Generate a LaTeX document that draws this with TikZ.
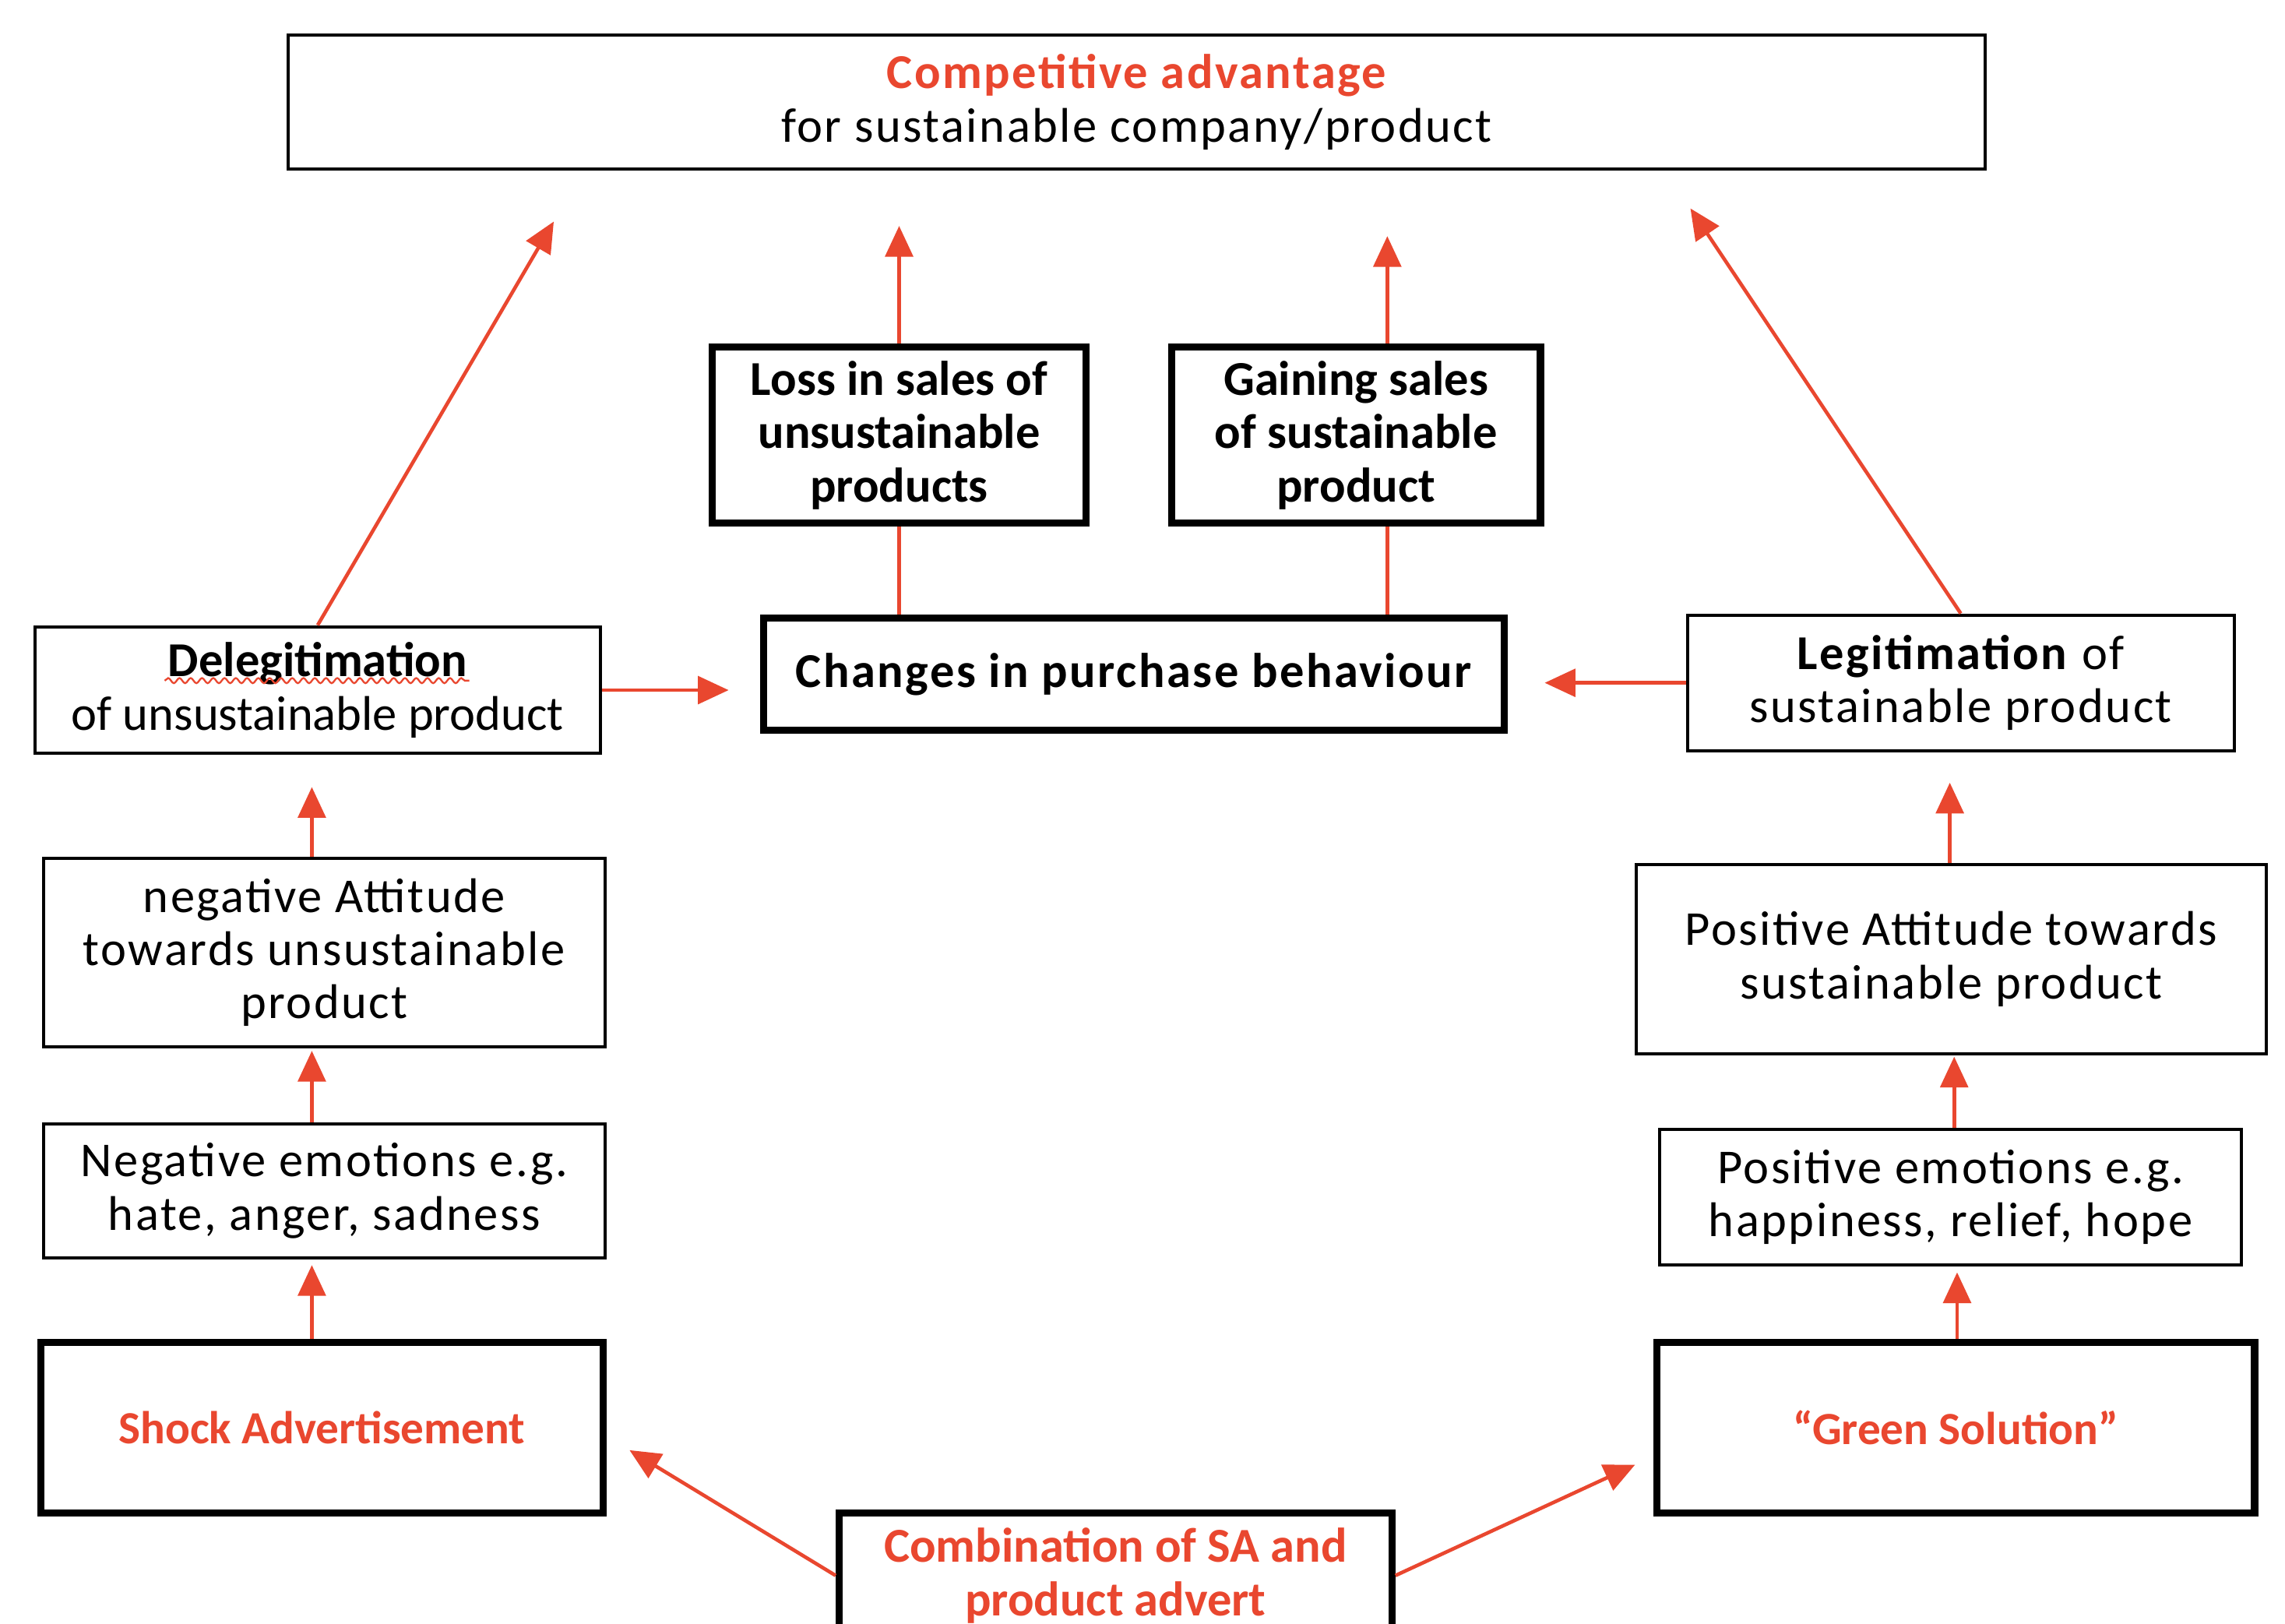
\documentclass[tikz,border=0pt]{standalone}
\usepackage{fontspec}
\setmainfont{Carlito}
\newfontfamily\widefont{Carlito}[LetterSpace=4]
\usetikzlibrary{arrows.meta,decorations.pathmorphing}
\definecolor{ink}{HTML}{000000}
\definecolor{accent}{HTML}{E9472F}
\tikzset{
  box/.style={draw=ink, line width=0.6pt, align=center, inner sep=0pt,
    font=\fontsize{9.5}{10.4}\selectfont\widefont},
  plainbox/.style={box, font=\fontsize{9.5}{10.4}\selectfont},
  boldbox/.style={box, line width=1.4pt, font=\fontsize{9.5}{10.4}\selectfont\bfseries},
  widebold/.style={boldbox, font=\fontsize{9.5}{10.4}\selectfont\widefont\bfseries},
  hot/.style={text=accent},
  link/.style={draw=accent, line width=0.7pt},
  flow/.style={link, -{Triangle[length=6pt,width=5.4pt]}},
  squiggle/.style={draw=accent, line width=0.35pt, decorate,
    decoration={snake, amplitude=0.5pt, segment length=2.2pt}},
}

\begin{document}
\begin{tikzpicture}[x=0.01cm,y=-0.01cm]
  \useasboundingbox (0,0) rectangle (1568,1114);
  \clip (0,0) rectangle (1568,1114);

  % top goal
  \node[box, minimum width=11.64cm, minimum height=0.92cm] (goal) at (780,70)
    {\textbf{\color{accent}Competitive advantage}\\for sustainable company/product};

  % sales and behaviour
  \node[boldbox, minimum width=2.56cm, minimum height=1.21cm] (loss) at (617,298.5)
    {Loss in sales of\\unsustainable\\products};
  \node[boldbox, minimum width=2.53cm, minimum height=1.21cm] (gain) at (930.5,298.5)
    {Gaining sales\\of sustainable\\product};
  \node[widebold, minimum width=5.08cm, minimum height=0.77cm] (change) at (778,462.5)
    {Changes in purchase behaviour};

  % left column
  \node[plainbox, minimum width=3.88cm, minimum height=0.87cm] (delegit) at (218,473.5)
    {\textbf{Delegitimation}\\of unsustainable product};
  \node[box, minimum width=3.85cm, minimum height=1.29cm] (negatt) at (222.5,653.5)
    {negative Attitude\\towards unsustainable\\product};
  \node[box, minimum width=3.85cm, minimum height=0.92cm] (negemo) at (222.5,817)
    {Negative emotions e.g.\\hate, anger, sadness};
  \node[boldbox, hot, font=\fontsize{9}{10}\selectfont\bfseries,
    minimum width=3.86cm, minimum height=1.17cm] (shock) at (221,979.5)
    {Shock Advertisement};

  % right column
  \node[box, minimum width=3.75cm, minimum height=0.93cm] (legit) at (1345.5,468.5)
    {\textbf{Legitimation} of\\sustainable product};
  \node[box, minimum width=4.32cm, minimum height=1.30cm] (posatt) at (1339,658)
    {Positive Attitude towards\\sustainable product};
  \node[box, minimum width=3.99cm, minimum height=0.93cm] (posemo) at (1338.5,821.5)
    {Positive emotions e.g.\\happiness, relief, hope};
  \node[boldbox, hot, font=\fontsize{9}{10}\selectfont\bfseries,
    minimum width=4.10cm, minimum height=1.17cm] (green) at (1342,979.5)
    {“Green Solution”};

  % bottom
  \node[boldbox, hot, minimum width=3.79cm, minimum height=0.86cm] (combo) at (765.5,1081)
    {Combination of SA and\\product advert};

  \draw[squiggle] (113,467) -- (322,467);   % spell check mark

  % free arrow ends
  \coordinate (dtip) at (380,152);
  \coordinate (losstip) at (617,155);
  \coordinate (gaintip) at (952,162);
  \coordinate (ltip) at (1160,143);
  \coordinate (dgo) at (500,473.5);
  \coordinate (lgo) at (1060,468.5);
  \coordinate (natip) at (214,540);
  \coordinate (netip) at (214,721);
  \coordinate (shtip) at (214,868);
  \coordinate (patip) at (1338,537);
  \coordinate (petip) at (1341,725);
  \coordinate (grtip) at (1343,873);
  \coordinate (stip) at (432,995);
  \coordinate (gtip) at (1122,1005);

  \draw[flow] (delegit.north) -- (dtip);
  \draw[link] (change.north -| loss) -- (loss.south);
  \draw[flow] (loss.north) -- (losstip);
  \draw[link] (change.north -| gaintip) -- (gain.south -| gaintip);
  \draw[flow] (gain.north -| gaintip) -- (gaintip);
  \draw[flow] (legit.north) -- (ltip);
  \draw[flow] (delegit.east) -- (dgo);
  \draw[flow] (legit.west) -- (lgo);

  \draw[flow] (negatt.north -| natip) -- (natip);
  \draw[flow] (negemo.north -| netip) -- (netip);
  \draw[flow] (shock.north -| shtip) -- (shtip);
  \draw[flow] (posatt.north -| patip) -- (patip);
  \draw[flow] (posemo.north -| petip) -- (petip);
  \draw[flow] (green.north -| grtip) -- (grtip);

  \draw[flow] (combo.west) -- (stip);
  \draw[flow] (combo.east) -- (gtip);
\end{tikzpicture}
\end{document}
